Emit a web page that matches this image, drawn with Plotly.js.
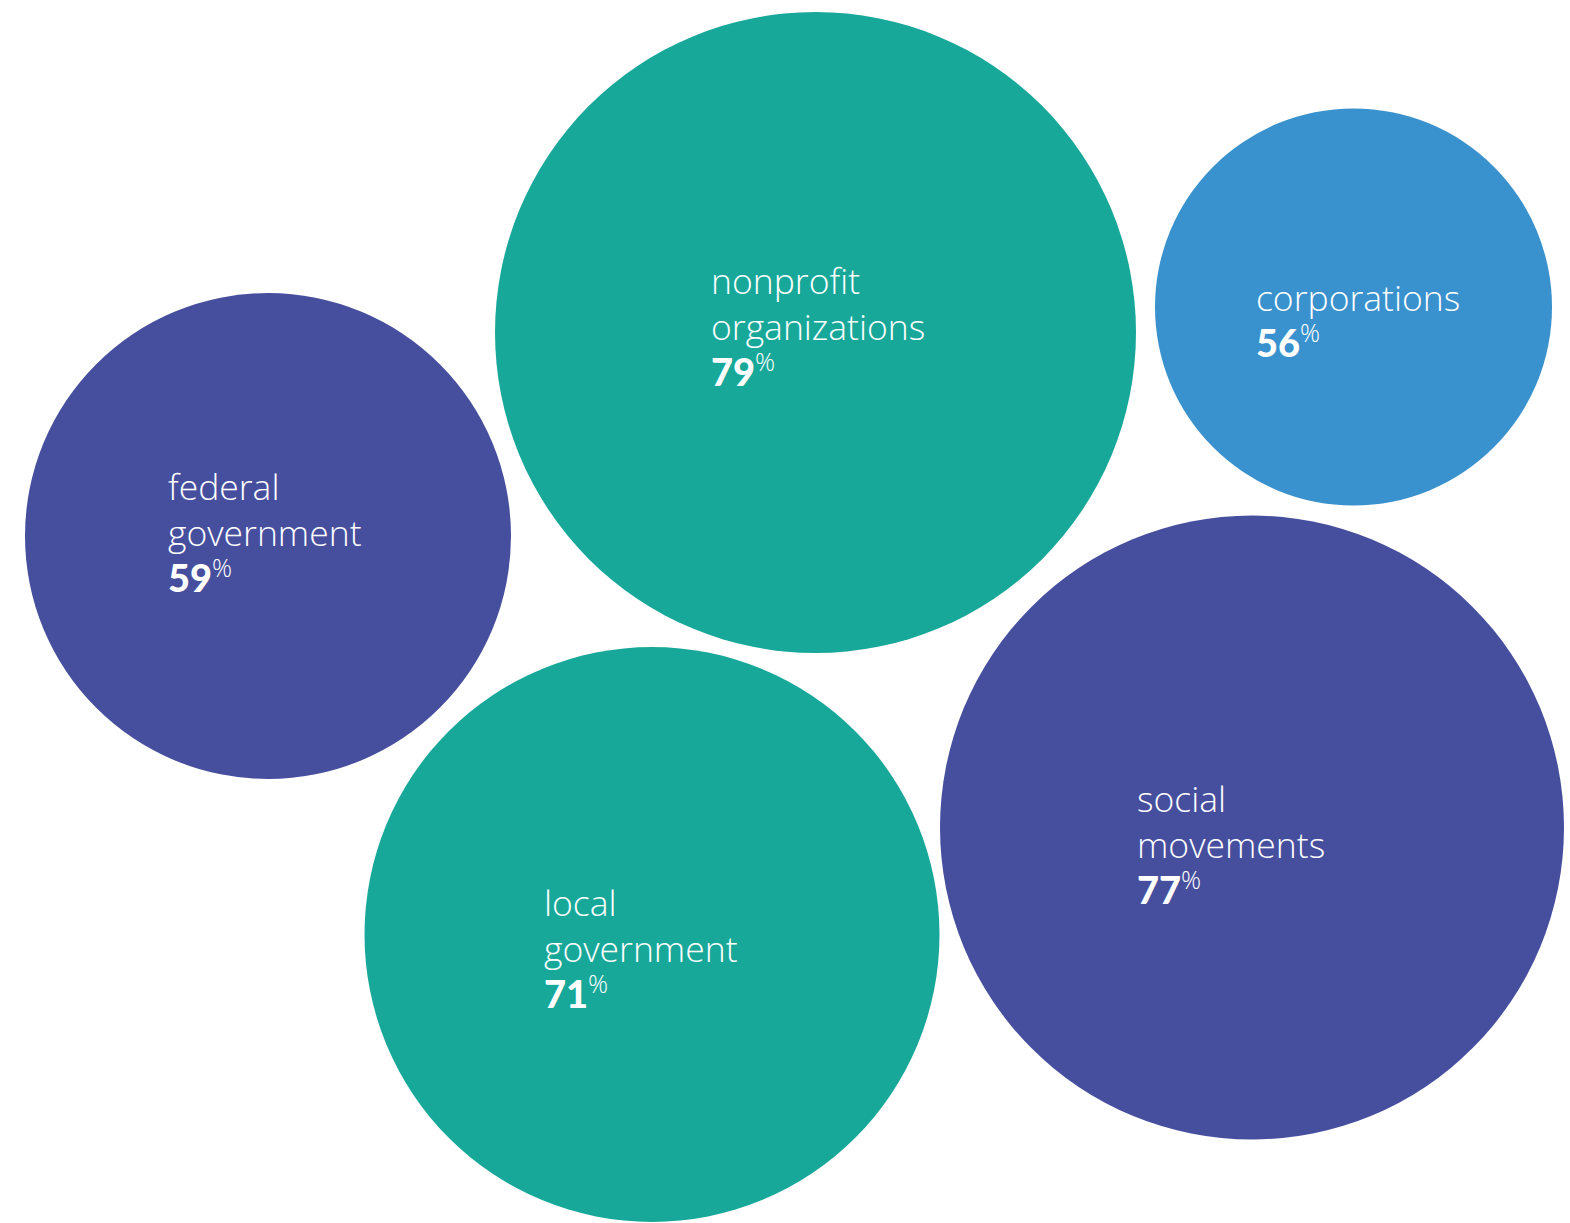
<!DOCTYPE html>
<html>
<head>
<meta charset="utf-8">
<script src="https://cdn.plot.ly/plotly-3.0.1.min.js"></script>
<style>html,body{margin:0;padding:0;background:#fff;}#chart{width:1570px;height:1223px;}</style>
</head>
<body>
<div id="chart"></div>
<script>
// Data
const categories = ["federal\ngovernment", "nonprofit\norganizations", "corporations", "local\ngovernment", "social\nmovements"];
const values = [59, 79, 56, 71, 77];
// Layout positions (pixel space) of bubble centres and diameters
const centerX = [268, 815.5, 1353.5, 652, 1252];
const centerY = [536, 332.5, 307, 934.5, 827.5];
const diameters = [486, 641, 397, 575, 624];
const colors = ["#464E9E", "#18A89A", "#3991CD", "#18A89A", "#464E9E"];
// Label anchor positions
const labelX = [166, 709, 1254, 542, 1135];
const labelY = [531, 325, 319, 947, 843];

const trace = {
  type: "scatter",
  mode: "markers",
  x: centerX,
  y: centerY,
  marker: {size: diameters, sizemode: "diameter", color: colors, opacity: 1, line: {width: 0}},
  hoverinfo: "none",
  showlegend: false
};

const annotations = categories.map((c, i) => ({
  x: labelX[i], y: labelY[i], xref: "x", yref: "y",
  xanchor: "left", yanchor: "middle", align: "left", showarrow: false,
  text: c.split("\n").join("<br>") + "<br><span style=\"font-weight:900;font-size:38px;font-family:Lato\">" + values[i] + "</span><sup>%</sup>",
  font: {family: "'Open Sans', Lato, sans-serif", size: 35.5, color: "#ffffff", weight: 300}
}));

const layout = {
  width: 1570, height: 1223,
  margin: {l: 0, r: 0, t: 0, b: 0},
  paper_bgcolor: "#ffffff", plot_bgcolor: "#ffffff",
  xaxis: {range: [0, 1570], visible: false, fixedrange: true},
  yaxis: {range: [1223, 0], visible: false, fixedrange: true},
  annotations: annotations,
  showlegend: false
};

Plotly.newPlot("chart", [trace], layout, {displayModeBar: false, staticPlot: true});
</script>
</body>
</html>
